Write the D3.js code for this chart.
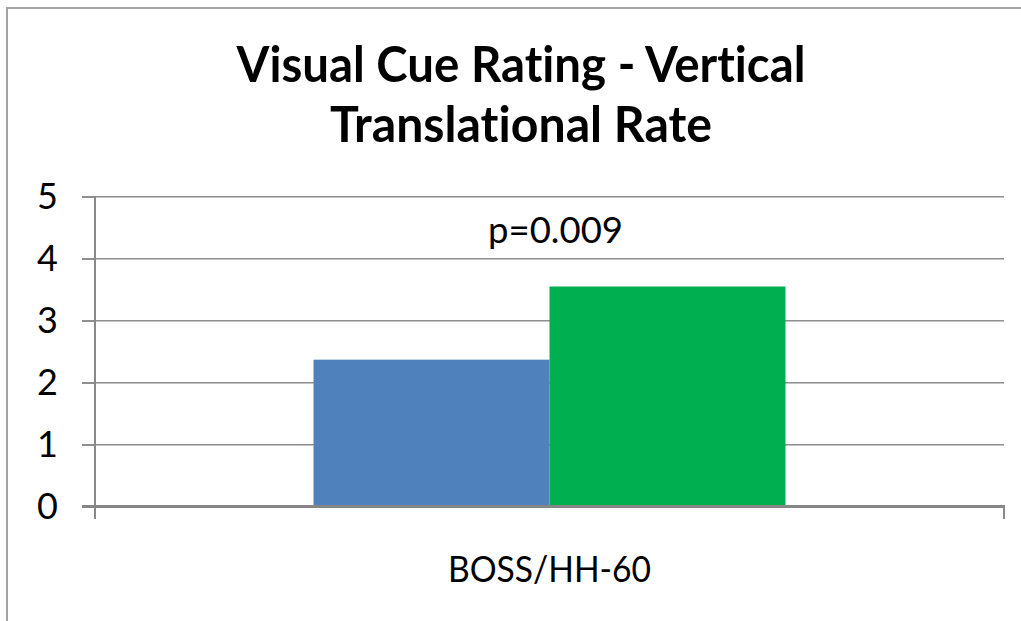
<!DOCTYPE html>
<html>
<head>
<meta charset="utf-8">
<script src="https://cdn.jsdelivr.net/npm/d3@7"></script>
<style>
  html, body { margin: 0; padding: 0; background: #fff; }
  svg { display: block; }
  text { font-variant-ligatures: none; font-feature-settings: "liga" 0, "clig" 0; }
</style>
</head>
<body>
<svg id="chart" width="1021" height="621"></svg>
<script>
// Chart data
const categories = ["BOSS/HH-60"];
const seriesNames = ["Visual Cue Rating A", "Visual Cue Rating B"];
const seriesValues = [2.36, 3.54];
const seriesColors = ["#4F81BD", "#00B050"];
const yTicks = [0, 1, 2, 3, 4, 5];
const titleLines = ["Visual Cue Rating - Vertical", "Translational Rate"];
const annotation = "p=0.009";

const svg = d3.select("#chart");
const font = "Lato, 'Open Sans', 'DejaVu Sans', sans-serif";

// Outer chart frame (runs off the right and bottom edges)
svg.append("rect")
  .attr("x", 7).attr("y", 8)
  .attr("width", 1040).attr("height", 640)
  .attr("fill", "none")
  .attr("stroke", "#a3a3a3")
  .attr("stroke-width", 2);

const plot = { left: 95, right: 1004, top: 196, bottom: 506 };

const y = d3.scaleLinear().domain([0, 5]).range([plot.bottom, plot.top]);
const x0 = d3.scaleBand().domain(categories)
  .range([plot.left, plot.right]).paddingInner(0).paddingOuter(0.463);
const x1 = d3.scaleBand().domain(seriesNames)
  .range([0, x0.bandwidth()]).padding(0);

// Gridlines with a soft lighter line beneath
const grid = svg.append("g");
yTicks.filter(t => t > 0).forEach(t => {
  grid.append("line")
    .attr("x1", plot.left - 13).attr("x2", plot.right)
    .attr("y1", y(t) + 1.5).attr("y2", y(t) + 1.5)
    .attr("stroke", "#c4c4c4").attr("stroke-width", 1);
  grid.append("line")
    .attr("x1", plot.left - 13).attr("x2", plot.right)
    .attr("y1", y(t) + 0.5).attr("y2", y(t) + 0.5)
    .attr("stroke", "#8f8f8f").attr("stroke-width", 1);
});

// Bars
const groups = svg.append("g").selectAll("g")
  .data(categories)
  .join("g")
  .attr("transform", d => `translate(${x0(d)},0)`);

groups.selectAll("rect")
  .data(() => seriesNames.map((s, i) => ({ s, v: seriesValues[i], c: seriesColors[i] })))
  .join("rect")
  .attr("x", d => x1(d.s))
  .attr("width", x1.bandwidth())
  .attr("y", d => y(d.v))
  .attr("height", d => y(0) - y(d.v))
  .attr("fill", d => d.c);

// Y axis
const yAxis = d3.axisLeft(y).tickValues(yTicks).tickSize(13).tickPadding(24)
  .tickFormat(d3.format("d"));
const yg = svg.append("g")
  .attr("transform", `translate(${plot.left},0)`)
  .call(yAxis);
yg.select(".domain").remove();
yg.selectAll(".tick line").attr("stroke", "#8f8f8f").attr("stroke-width", 2)
  .attr("transform", "translate(0,0.5)");
yg.selectAll(".tick text")
  .attr("font-family", font)
  .attr("font-size", 36)
  .attr("fill", "#000")
  .attr("dy", "0.36em");

// Vertical axis line
svg.append("line")
  .attr("x1", plot.left).attr("x2", plot.left)
  .attr("y1", plot.top).attr("y2", plot.bottom + 12)
  .attr("stroke", "#888").attr("stroke-width", 2);

// X axis baseline and end ticks
svg.append("line")
  .attr("x1", plot.left - 13).attr("x2", plot.right + 1)
  .attr("y1", y(0) + 0.5).attr("y2", y(0) + 0.5)
  .attr("stroke", "#868686").attr("stroke-width", 3);
[plot.left, plot.right].forEach(px => {
  svg.append("line")
    .attr("x1", px).attr("x2", px)
    .attr("y1", y(0)).attr("y2", y(0) + 13)
    .attr("stroke", "#888").attr("stroke-width", 2);
});

// Category label
svg.append("g").selectAll("text")
  .data(categories)
  .join("text")
  .attr("x", d => x0(d) + x0.bandwidth() / 2)
  .attr("y", 582)
  .attr("text-anchor", "middle")
  .attr("font-family", font)
  .attr("font-size", 37)
  .attr("textLength", 203)
  .attr("lengthAdjust", "spacingAndGlyphs")
  .attr("fill", "#000")
  .text(d => d);

// Significance annotation
svg.append("text")
  .attr("x", x0(categories[0]) + x0.bandwidth() / 2 + 6)
  .attr("y", 243)
  .attr("text-anchor", "middle")
  .attr("font-family", font)
  .attr("font-size", 37)
  .attr("textLength", 135)
  .attr("lengthAdjust", "spacingAndGlyphs")
  .attr("fill", "#000")
  .text(annotation);

// Title
const titleWidths = [569, 382];
const titleBaselines = [82, 142];
svg.append("g").selectAll("text")
  .data(titleLines)
  .join("text")
  .attr("x", 521)
  .attr("y", (d, i) => titleBaselines[i])
  .attr("text-anchor", "middle")
  .attr("font-family", font)
  .attr("font-weight", "bold")
  .attr("font-size", 49)
  .attr("textLength", (d, i) => titleWidths[i])
  .attr("lengthAdjust", "spacingAndGlyphs")
  .attr("fill", "#000")
  .text(d => d);
</script>
</body>
</html>
